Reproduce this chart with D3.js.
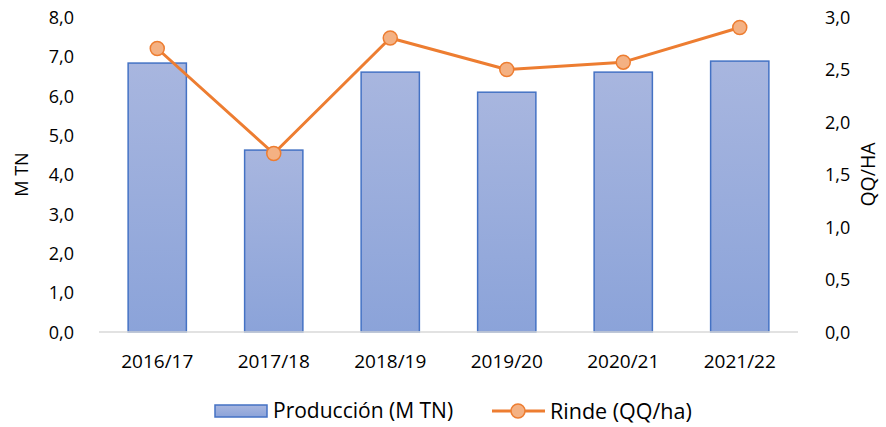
<!DOCTYPE html>
<html>
<head>
<meta charset="utf-8">
<script src="https://cdn.jsdelivr.net/npm/d3@7"></script>
<style>
  body { margin: 0; background: #fff; }
  text { font-family: "Open Sans", "Liberation Sans", sans-serif; fill: #000; }
</style>
</head>
<body>
<div class="mainContainer"></div>
<script>
// chart data
const campaigns = ['2016/17', '2017/18', '2018/19', '2019/20', '2020/21', '2021/22'];
const produccion = [6.83, 4.62, 6.6, 6.09, 6.6, 6.88];
const rinde = [2.7, 1.7, 2.8, 2.5, 2.57, 2.9];
const leftTicks = [0, 1, 2, 3, 4, 5, 6, 7, 8];
const rightTicks = [0, 0.5, 1, 1.5, 2, 2.5, 3];

let width = 886;
let height = 427;
let margin = {top: 17, right: 88, bottom: 95, left: 99};

const fmt = (d) => d3.format('.1f')(d).replace('.', ',');

const svg = d3.select('.mainContainer')
  .append('svg')
  .attr('width', width)
  .attr('height', height);

const x = d3.scaleBand()
  .domain(campaigns)
  .range([margin.left, width - margin.right])
  .paddingInner(0.5)
  .paddingOuter(0.25);

const yLeft = d3.scaleLinear().domain([0, 8]).range([height - margin.bottom, margin.top]);
const yRight = d3.scaleLinear().domain([0, 3]).range([height - margin.bottom, margin.top]);

// bar gradient
const grad = svg.append('defs').append('linearGradient')
  .attr('id', 'barGrad')
  .attr('x1', 0).attr('y1', 0).attr('x2', 0).attr('y2', 1);
grad.append('stop').attr('offset', '0%').attr('stop-color', '#a8b6df');
grad.append('stop').attr('offset', '100%').attr('stop-color', '#8ba3d9');

// bars
svg.selectAll('.bar')
  .data(produccion)
  .enter()
  .append('rect')
  .attr('x', (d, i) => x(campaigns[i]))
  .attr('y', (d) => yLeft(d))
  .attr('width', x.bandwidth())
  .attr('height', (d) => yLeft(0) - yLeft(d))
  .attr('fill', 'url(#barGrad)')
  .attr('stroke', '#4472c4')
  .style('stroke-width', '1.5px');

// base axis line
svg.append('line')
  .attr('x1', margin.left).attr('x2', width - margin.right)
  .attr('y1', yLeft(0)).attr('y2', yLeft(0))
  .attr('stroke', '#d9d9d9')
  .style('stroke-width', '1.5px');

// left axis
const left = svg.append('g')
  .attr('transform', 'translate(' + (margin.left - 22) + ',0)')
  .call(d3.axisLeft(yLeft).tickValues(leftTicks).tickFormat(fmt).tickSize(0));
left.select('.domain').remove();
left.selectAll('text').style('font-size', '18px').attr('dy', '0.35em');

// right axis
const right = svg.append('g')
  .attr('transform', 'translate(' + (width - margin.right + 24) + ',0)')
  .call(d3.axisRight(yRight).tickValues(rightTicks).tickFormat(fmt).tickSize(0));
right.select('.domain').remove();
right.selectAll('text').style('font-size', '18px').attr('dy', '0.35em');

// bottom axis
const bottom = svg.append('g')
  .attr('transform', 'translate(0,' + (yLeft(0) + 29) + ')')
  .call(d3.axisBottom(x).tickSize(0));
bottom.select('.domain').remove();
bottom.selectAll('text').style('font-size', '19px').attr('y', 0).attr('dy', '0.35em');

// axis titles
svg.append('text')
  .text('M TN')
  .attr('transform', 'translate(28,' + ((margin.top + yLeft(0)) / 2) + ') rotate(-90)')
  .style('text-anchor', 'middle')
  .style('font-size', '18px');

svg.append('text')
  .text('QQ/HA')
  .attr('transform', 'translate(875,' + ((margin.top + yLeft(0)) / 2) + ') rotate(-90)')
  .style('text-anchor', 'middle')
  .style('font-size', '19.5px');

// line
const line = d3.line()
  .x((d, i) => x(campaigns[i]) + x.bandwidth() / 2)
  .y((d) => yRight(d));

svg.append('path')
  .datum(rinde)
  .attr('d', line)
  .attr('fill', 'none')
  .attr('stroke', '#ed7d31')
  .style('stroke-width', '3px')
  .attr('stroke-linejoin', 'round');

svg.selectAll('.pt')
  .data(rinde)
  .enter()
  .append('circle')
  .attr('cx', (d, i) => x(campaigns[i]) + x.bandwidth() / 2)
  .attr('cy', (d) => yRight(d))
  .attr('r', 7)
  .attr('fill', '#f4b183')
  .attr('stroke', '#ed7d31')
  .style('stroke-width', '1.5px');

// legend
const legY = 411;
svg.append('rect')
  .attr('x', 215).attr('y', legY - 6)
  .attr('width', 52).attr('height', 12)
  .attr('fill', 'url(#barGrad)')
  .attr('stroke', '#4472c4')
  .style('stroke-width', '1.5px');
svg.append('text')
  .text('Producción (M TN)')
  .attr('x', 273).attr('y', legY)
  .attr('dy', '0.35em')
  .style('font-size', '21px');

svg.append('line')
  .attr('x1', 492).attr('x2', 545)
  .attr('y1', legY).attr('y2', legY)
  .attr('stroke', '#ed7d31')
  .style('stroke-width', '3px');
svg.append('circle')
  .attr('cx', 518).attr('cy', legY).attr('r', 7)
  .attr('fill', '#f4b183')
  .attr('stroke', '#ed7d31')
  .style('stroke-width', '1.5px');
svg.append('text')
  .text('Rinde (QQ/ha)')
  .attr('x', 550).attr('y', legY)
  .attr('dy', '0.35em')
  .style('font-size', '21.5px');
</script>
</body>
</html>
